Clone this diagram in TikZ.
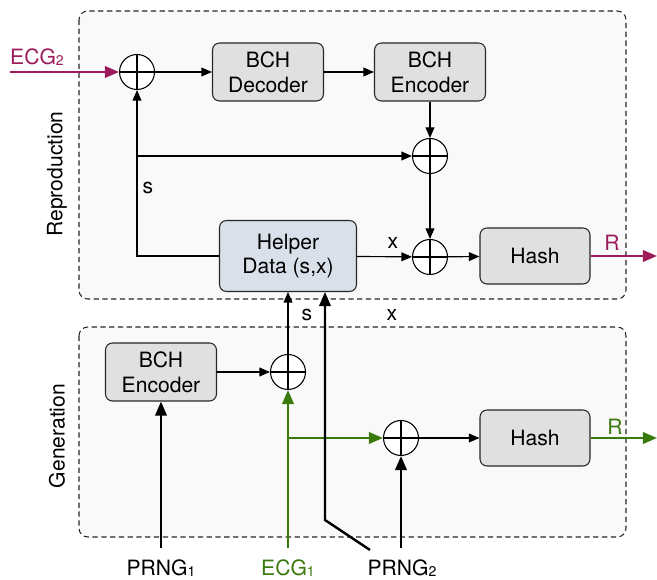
\documentclass[tikz,border=0pt]{standalone}
\usepackage{fontspec}
\setmainfont{TeX Gyre Heros}
\usetikzlibrary{positioning,arrows.meta}

\definecolor{ecgmag}{HTML}{9C1B5B}
\definecolor{ecggreen}{HTML}{3A7A0C}
\definecolor{boxgray}{HTML}{E0E0E0}
\definecolor{helperblue}{HTML}{DAE0EA}
\definecolor{groupfill}{HTML}{F9F9F9}

\newcommand{\lowidx}[1]{\raisebox{-0.1ex}{\fontsize{8}{9}\selectfont #1}}

\tikzset{
  block/.style={draw=black!85, fill=boxgray, rounded corners=4pt, align=center,
    minimum width=2.22cm, minimum height=1.16cm, line width=0.6pt},
  xor/.style={circle, draw, fill=white, minimum size=0.7cm, inner sep=0pt, line width=0.6pt,
    path picture={\draw (path picture bounding box.north) -- (path picture bounding box.south)
      (path picture bounding box.west) -- (path picture bounding box.east);}},
  group/.style={draw=black!85, dash pattern=on 3pt off 2pt, fill=groupfill,
    rounded corners=5pt, line width=0.6pt},
  arr/.style={-{Triangle[length=6pt,width=5pt]}, line width=0.65pt},
  bigarr/.style={-{Triangle[length=8pt,width=6.5pt]}, line width=1.35pt},
  inlbl/.style={outer ysep=3pt}
}

\begin{document}
\begin{tikzpicture}[x=0.02cm, y=-0.02cm, font=\fontsize{12}{14}\selectfont]
    \useasboundingbox (0,0) rectangle (657,580);
    % Groups
    \draw [group] (79,11) rectangle (626,299);
    \draw [group] (79,327) rectangle (626,537);
    \node [rotate=90] at (57,174) {Reproduction};
    \node [rotate=90] at (57,436) {Generation};

    % Reproduction
    \node [xor] (xorA) at (137,72) {};
    \node [block] (decA) at (268,72) {BCH\\Decoder};
    \node [block] (encA) at (430,72) {BCH\\Encoder};
    \node [xor] (xorB) at (430,156) {};
    \node [xor] (xorC) at (430,257) {};
    \node [block, fill=helperblue, minimum width=2.74cm, minimum height=1.42cm] (helper) at (288,256) {Helper\\Data (s,x)};
    \node [block, minimum width=2.2cm, minimum height=1.12cm] (hashA) at (535,256) {Hash};
    \node [text=ecgmag] (ecg2) at (37,57) {ECG\lowidx{2}};
    \coordinate (ecg2in) at (10,72);
    \coordinate (outA) at (657,256);
    \coordinate (sSplit) at (xorA |- xorB);

    \draw [bigarr, ecgmag] (ecg2in) -- (xorA);
    \draw [arr] (xorA) -- (decA);
    \draw [arr] (decA) -- (encA);
    \draw [arr] (encA) -- (xorB);
    \draw [arr] (xorB) -- (xorC);
    \draw [arr] (helper.west) -| (xorA);
    \draw [arr] (sSplit) -- (xorB);
    \draw [arr] (helper) -- (xorC);
    \draw [arr] (xorC) -- (hashA);
    \draw [bigarr, ecgmag] (hashA) -- (outA);
    \node at (148,188) {s};
    \node at (393,243) {x};
    \node [text=ecgmag] at (612,243) {R};

    % Generation
    \node [block] (encB) at (161,372) {BCH\\Encoder};
    \node [xor] (xorD) at (288,372) {};
    \node [xor] (xorE) at (401,438) {};
    \node [block, minimum width=2.2cm, minimum height=1.12cm] (hashB) at (535,438) {Hash};
    \node [inlbl] (prng1) at (161,568) {PRNG\lowidx{1}};
    \node [inlbl, text=ecggreen] (ecg1) at (288,568) {ECG\lowidx{1}};
    \node [inlbl] (prng2) at (402,568) {PRNG\lowidx{2}};
    \coordinate (eSplit) at (xorD |- xorE);
    \coordinate (xSrc) at (370,550);
    \coordinate (xBend) at (325,520);
    \coordinate (outB) at (657,438);

    \draw [arr] (encB) -- (xorD);
    \draw [bigarr] (prng1) -- (encB);
    \draw [bigarr, ecggreen] (ecg1) -- (xorD);
    \draw [bigarr, ecggreen] (eSplit) -- (xorE);
    \draw [bigarr] (prng2.north -| xorE) -- (xorE);
    \draw [arr] (xorE) -- (hashB);
    \draw [bigarr, ecggreen] (hashB) -- (outB);
    \node [text=ecggreen] at (615,427) {R};

    % Helper data inputs
    \draw [arr] (xorD) -- (xorD |- helper.south);
    \draw [bigarr] (xSrc) -- (xBend) -- (xBend |- helper.south);
    \node at (307,315) {s};
    \node at (392,315) {x};
\end{tikzpicture}
\end{document}
